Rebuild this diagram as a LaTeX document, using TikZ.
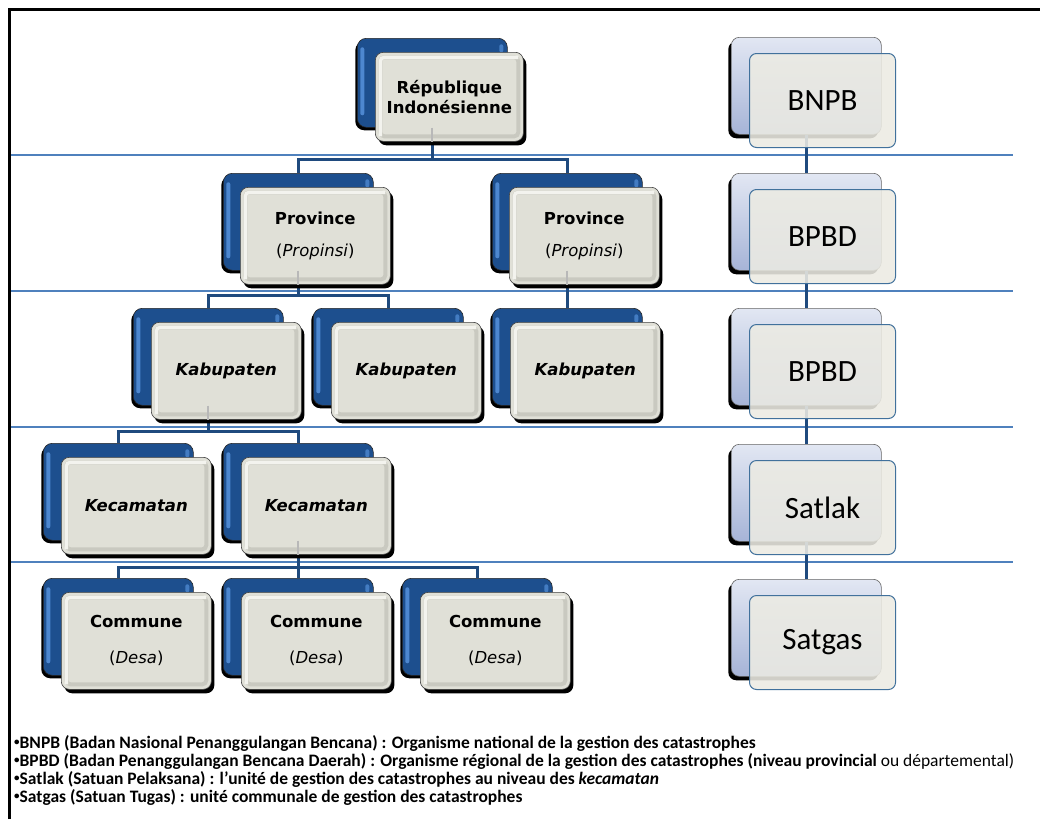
\documentclass[tikz,border=0pt]{standalone}
\usepackage{fontspec}
\setmainfont{DejaVu Sans}
\newfontfamily\carlito{Carlito}
\usetikzlibrary{shadows}
\definecolor{lblue}{HTML}{1D4F8E}
\definecolor{hblue}{HTML}{4D87CF}
\definecolor{fgray}{HTML}{E0E0D7}
\definecolor{fedge}{HTML}{F3F3EE}
\definecolor{fdark}{HTML}{C9C9C0}
\definecolor{conn}{HTML}{1F4A7E}
\definecolor{sepc}{HTML}{4F81BD}
\definecolor{rtop}{HTML}{E2E7F3}
\definecolor{rbot}{HTML}{A6B4D7}
\definecolor{rfill}{HTML}{ECEBE3}
\definecolor{rline}{HTML}{41719C}
\newcommand\smbul{\raisebox{2.5pt}{\fontsize{11}{11}\selectfont •}}
\begin{document}
\begin{tikzpicture}[x=1pt,y=-1pt,
  sep/.style={draw=sepc,line width=1.5pt},
  link/.style={draw=conn,line width=3pt},
  faint/.style={draw=white!72!black,line width=2pt},
  lback/.style={anchor=north west,minimum width=150pt,inner sep=0pt,rounded corners=9pt,
    fill=lblue,draw=black!85,line width=0.6pt,
    drop shadow={shadow xshift=-2pt,shadow yshift=-3pt,opacity=1,fill=black},
    path picture={\fill[hblue,rounded corners=2pt] ([xshift=3pt,yshift=-9pt]path picture bounding box.north west) rectangle ([xshift=7pt,yshift=12pt]path picture bounding box.south west);
      \fill[hblue!80!lblue,rounded corners=2pt] ([xshift=-8pt,yshift=-6pt]path picture bounding box.north east) rectangle ([xshift=-4pt,yshift=-14pt]path picture bounding box.north east);}},
  lfront/.style={anchor=north west,minimum width=150pt,inner sep=0pt,rounded corners=8pt,
    fill=fgray,draw=black!75,line width=0.6pt,
    drop shadow={shadow xshift=3pt,shadow yshift=-4pt,opacity=1,fill=black},
    path picture={\draw[fdark,line width=4pt,rounded corners=4pt] ([xshift=5pt,yshift=-5pt]path picture bounding box.north west) rectangle ([xshift=-5pt,yshift=5pt]path picture bounding box.south east);
      \draw[fedge,line width=3.5pt,rounded corners=4pt] ([xshift=5pt,yshift=5pt]path picture bounding box.south west) -- ([xshift=5pt,yshift=-5pt]path picture bounding box.north west) -- ([xshift=-5pt,yshift=-5pt]path picture bounding box.north east);},
    align=center,font=\fontsize{16.5}{20}\selectfont\bfseries},
  rback/.style={anchor=north west,minimum width=150pt,minimum height=97pt,inner sep=0pt,rounded corners=8pt,
    top color=rtop,bottom color=rbot,draw=black!60,line width=0.6pt,
    drop shadow={shadow xshift=-3pt,shadow yshift=-4pt,opacity=1,fill=black}},
  rfront/.style={anchor=north west,minimum width=146pt,minimum height=94pt,inner sep=0pt,rounded corners=7pt,
    fill=rfill,fill opacity=0.88,text opacity=1,draw=rline,line width=1pt,
    font=\carlito\fontsize{31}{36}\selectfont}
]
\useasboundingbox (0,0) rectangle (1040,819);
\fill[white] (0,0) rectangle (1040,819);
% separators
\draw[sep] (10,155) -- (1013,155);
\draw[sep] (10,291) -- (1013,291);
\draw[sep] (10,427) -- (1013,427);
\draw[sep] (10,562) -- (1013,562);
% back boxes (left)
\node[lback,minimum height=89pt] (rep) at (357,38) {};
\node[lback,minimum height=97pt] (prov1) at (223,173) {};
\node[lback,minimum height=97pt] (prov2) at (492,173) {};
\node[lback,minimum height=97pt] (kab1) at (133,308) {};
\node[lback,minimum height=97pt] (kab2) at (313,308) {};
\node[lback,minimum height=97pt] (kab3) at (492,308) {};
\node[lback,minimum height=97pt] (kec1) at (43,443) {};
\node[lback,minimum height=97pt] (kec2) at (223,443) {};
\node[lback,minimum height=97pt] (com1) at (43,578) {};
\node[lback,minimum height=97pt] (com2) at (223,578) {};
\node[lback,minimum height=97pt] (com3) at (402,578) {};
% back boxes (right)
\node[rback] (bnpb) at (731,37) {};
\node[rback] (bpbd1) at (731,173) {};
\node[rback] (bpbd2) at (731,308) {};
\node[rback] (satlak) at (731,444) {};
\node[rback] (satgas) at (731,579) {};
% connectors
\draw[link] (rep.south) -- ++(0,32) -| (prov1.north);
\draw[link] (rep.south) -- ++(0,32) -| (prov2.north);
\draw[link] (prov1.south) -- ++(0,25) -| (kab1.north);
\draw[link] (prov1.south) -- ++(0,25) -| (kab2.north);
\draw[link] (prov2.south) -- (kab3.north);
\draw[link] (kab1.south) -- ++(0,26) -| (kec1.north);
\draw[link] (kab1.south) -- ++(0,26) -| (kec2.north);
\draw[link] (kec2.south) -- ++(0,27) -| (com1.north);
\draw[link] (kec2.south) -- ++(0,27) -| (com2.north);
\draw[link] (kec2.south) -- ++(0,27) -| (com3.north);
\draw[link] (bnpb.south) -- (bpbd1.north);
\draw[link] (bpbd1.south) -- (bpbd2.north);
\draw[link] (bpbd2.south) -- (satlak.north);
\draw[link] (satlak.south) -- (satgas.north);
% front boxes (left)
\node[lfront,minimum width=148pt,minimum height=89pt] (repf) at (375,52) {République\\Indonésienne};
\node[lfront,minimum height=97pt] (prov1f) at (240,187) {Province\\[12pt]{\mdseries(\textit{Propinsi})}};
\node[lfront,minimum height=97pt] (prov2f) at (509,187) {Province\\[12pt]{\mdseries(\textit{Propinsi})}};
\node[lfront,minimum height=97pt] (kab1f) at (151,322) {\textit{Kabupaten}};
\node[lfront,minimum height=97pt] (kab2f) at (331,322) {\textit{Kabupaten}};
\node[lfront,minimum height=97pt] (kab3f) at (510,322) {\textit{Kabupaten}};
\node[lfront,minimum height=97pt] (kec1f) at (61,457) {\textit{Kecamatan}};
\node[lfront,minimum height=97pt] (kec2f) at (241,457) {\textit{Kecamatan}};
\node[lfront,minimum height=97pt] (com1f) at (61,592) {Commune\\[16pt]{\mdseries(\textit{Desa})}};
\node[lfront,minimum height=97pt] (com2f) at (241,592) {Commune\\[16pt]{\mdseries(\textit{Desa})}};
\node[lfront,minimum height=97pt] (com3f) at (420,592) {Commune\\[16pt]{\mdseries(\textit{Desa})}};
% faint connector traces
\draw[faint] (rep.south) -- (rep.south |- repf.south);
\draw[faint] (prov1.south) -- (prov1.south |- prov1f.south);
\draw[faint] (prov2.south) -- (prov2.south |- prov2f.south);
\draw[faint] (kab1.south) -- (kab1.south |- kab1f.south);
\draw[faint] (kec2.south) -- (kec2.south |- kec2f.south);
% front boxes (right)
\node[rfront] (bnpbf) at (749,53) {BNPB};
\node[rfront] (bpbd1f) at (749,189) {BPBD};
\node[rfront] (bpbd2f) at (749,324) {BPBD};
\node[rfront] (satlakf) at (749,460) {Satlak};
\node[rfront] (satgasf) at (749,595) {Satgas};
% legend
\node[anchor=west,align=left,inner sep=0pt,font=\carlito\bfseries\fontsize{17.5}{18}\selectfont] (legend) at (14,770)
{\smbul BNPB (Badan Nasional Penanggulangan Bencana) : Organisme national de la gestion des catastrophes\\
\smbul BPBD (Badan Penanggulangan Bencana Daerah) : Organisme régional de la gestion des catastrophes (niveau provincial {\mdseries ou départemental)}\\
\smbul Satlak (Satuan Pelaksana) : l’unité de gestion des catastrophes au niveau des \textit{kecamatan}\\
\smbul Satgas (Satuan Tugas) : unité communale de gestion des catastrophes};
% frame
\draw[line width=3pt] (9,819) -- (9,9) -- (1040,9);
\end{tikzpicture}
\end{document}
